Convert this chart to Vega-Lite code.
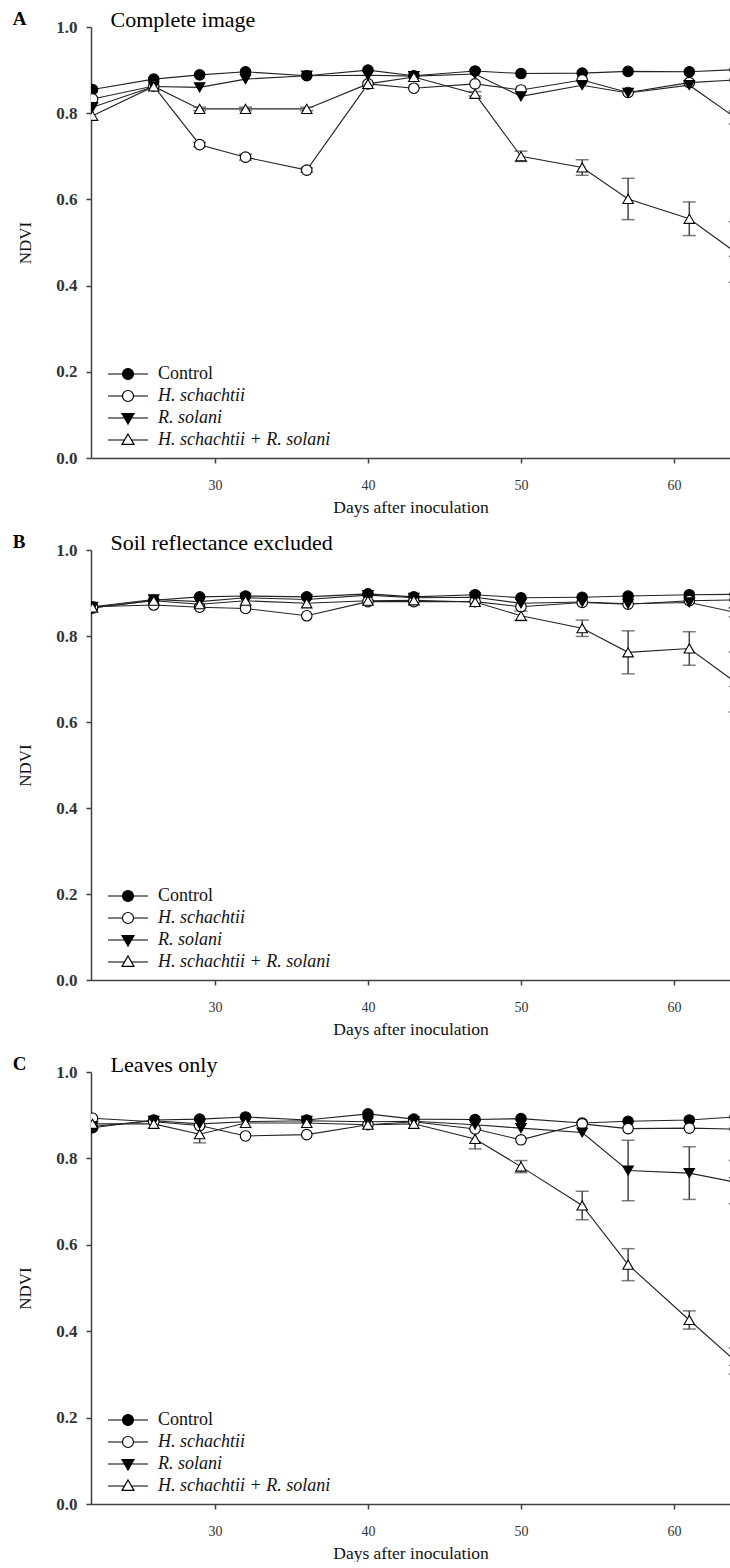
{
  "$schema": "https://vega.github.io/schema/vega-lite/v6.json",
  "background": "white",
  "padding": {"left": 12, "top": 8, "right": 0, "bottom": 0},
  "config": {
    "font": "Liberation Serif",
    "view": {"stroke": null},
    "concat": {"spacing": 92},
    "axis": {
      "grid": false,
      "domainColor": "#404040",
      "domainWidth": 1.5,
      "tickColor": "#404040",
      "tickWidth": 1.5,
      "tickSize": 5,
      "labelFont": "Liberation Serif",
      "titleFont": "Liberation Serif",
      "labelColor": "#333333",
      "titleColor": "#111111",
      "titleFontWeight": "normal"
    },
    "title": {"anchor": "start", "frame": "bounds", "dx": -4, "offset": -21, "font": "Liberation Serif", "fontSize": 19, "fontWeight": "bold", "color": "#000000"},
    "legend": {
      "orient": "bottom-left",
      "offset": 9,
      "padding": 0,
      "title": null,
      "labelFont": "Liberation Serif",
      "labelFontSize": 18,
      "labelColor": "#111111",
      "labelLimit": 400,
      "symbolSize": 1600,
      "symbolStrokeColor": "#000000",
      "symbolStrokeWidth": 1.2,
      "symbolOpacity": 1,
      "symbolOffset": 7,
      "labelOffset": 9,
      "clipHeight": 18,
      "rowPadding": 4
    }
  },
  "data": {"values": [
    {"panel":"A","series":"Control","day":22,"ndvi":0.855,"err":0},
    {"panel":"A","series":"Control","day":26,"ndvi":0.879,"err":0},
    {"panel":"A","series":"Control","day":29,"ndvi":0.889,"err":0},
    {"panel":"A","series":"Control","day":32,"ndvi":0.896,"err":0},
    {"panel":"A","series":"Control","day":36,"ndvi":0.887,"err":0},
    {"panel":"A","series":"Control","day":40,"ndvi":0.900,"err":0},
    {"panel":"A","series":"Control","day":43,"ndvi":0.887,"err":0},
    {"panel":"A","series":"Control","day":47,"ndvi":0.898,"err":0},
    {"panel":"A","series":"Control","day":50,"ndvi":0.892,"err":0},
    {"panel":"A","series":"Control","day":54,"ndvi":0.893,"err":0},
    {"panel":"A","series":"Control","day":57,"ndvi":0.897,"err":0},
    {"panel":"A","series":"Control","day":61,"ndvi":0.896,"err":0},
    {"panel":"A","series":"Control","day":64,"ndvi":0.901,"err":0},
    {"panel":"A","series":"H. schachtii","day":22,"ndvi":0.833,"err":0},
    {"panel":"A","series":"H. schachtii","day":26,"ndvi":0.863,"err":0},
    {"panel":"A","series":"H. schachtii","day":29,"ndvi":0.727,"err":0.005},
    {"panel":"A","series":"H. schachtii","day":32,"ndvi":0.698,"err":0.007},
    {"panel":"A","series":"H. schachtii","day":36,"ndvi":0.668,"err":0.005},
    {"panel":"A","series":"H. schachtii","day":40,"ndvi":0.868,"err":0},
    {"panel":"A","series":"H. schachtii","day":43,"ndvi":0.858,"err":0},
    {"panel":"A","series":"H. schachtii","day":47,"ndvi":0.868,"err":0},
    {"panel":"A","series":"H. schachtii","day":50,"ndvi":0.854,"err":0},
    {"panel":"A","series":"H. schachtii","day":54,"ndvi":0.877,"err":0},
    {"panel":"A","series":"H. schachtii","day":57,"ndvi":0.848,"err":0},
    {"panel":"A","series":"H. schachtii","day":61,"ndvi":0.871,"err":0},
    {"panel":"A","series":"H. schachtii","day":64,"ndvi":0.877,"err":0},
    {"panel":"A","series":"R. solani","day":22,"ndvi":0.814,"err":0},
    {"panel":"A","series":"R. solani","day":26,"ndvi":0.862,"err":0},
    {"panel":"A","series":"R. solani","day":29,"ndvi":0.860,"err":0},
    {"panel":"A","series":"R. solani","day":32,"ndvi":0.879,"err":0},
    {"panel":"A","series":"R. solani","day":36,"ndvi":0.887,"err":0},
    {"panel":"A","series":"R. solani","day":40,"ndvi":0.888,"err":0},
    {"panel":"A","series":"R. solani","day":43,"ndvi":0.886,"err":0},
    {"panel":"A","series":"R. solani","day":47,"ndvi":0.891,"err":0},
    {"panel":"A","series":"R. solani","day":50,"ndvi":0.839,"err":0},
    {"panel":"A","series":"R. solani","day":54,"ndvi":0.865,"err":0},
    {"panel":"A","series":"R. solani","day":57,"ndvi":0.847,"err":0},
    {"panel":"A","series":"R. solani","day":61,"ndvi":0.865,"err":0},
    {"panel":"A","series":"R. solani","day":64,"ndvi":0.790,"err":0.015},
    {"panel":"A","series":"H. schachtii + R. solani","day":22,"ndvi":0.794,"err":0},
    {"panel":"A","series":"H. schachtii + R. solani","day":26,"ndvi":0.862,"err":0},
    {"panel":"A","series":"H. schachtii + R. solani","day":29,"ndvi":0.810,"err":0.004},
    {"panel":"A","series":"H. schachtii + R. solani","day":32,"ndvi":0.810,"err":0.004},
    {"panel":"A","series":"H. schachtii + R. solani","day":36,"ndvi":0.810,"err":0.004},
    {"panel":"A","series":"H. schachtii + R. solani","day":40,"ndvi":0.868,"err":0},
    {"panel":"A","series":"H. schachtii + R. solani","day":43,"ndvi":0.884,"err":0},
    {"panel":"A","series":"H. schachtii + R. solani","day":47,"ndvi":0.845,"err":0.005},
    {"panel":"A","series":"H. schachtii + R. solani","day":50,"ndvi":0.700,"err":0.012},
    {"panel":"A","series":"H. schachtii + R. solani","day":54,"ndvi":0.674,"err":0.018},
    {"panel":"A","series":"H. schachtii + R. solani","day":57,"ndvi":0.601,"err":0.048},
    {"panel":"A","series":"H. schachtii + R. solani","day":61,"ndvi":0.555,"err":0.039},
    {"panel":"A","series":"H. schachtii + R. solani","day":64,"ndvi":0.478,"err":0.07},
    {"panel":"B","series":"Control","day":22,"ndvi":0.865,"err":0},
    {"panel":"B","series":"Control","day":26,"ndvi":0.883,"err":0},
    {"panel":"B","series":"Control","day":29,"ndvi":0.891,"err":0},
    {"panel":"B","series":"Control","day":32,"ndvi":0.893,"err":0},
    {"panel":"B","series":"Control","day":36,"ndvi":0.891,"err":0},
    {"panel":"B","series":"Control","day":40,"ndvi":0.898,"err":0},
    {"panel":"B","series":"Control","day":43,"ndvi":0.891,"err":0},
    {"panel":"B","series":"Control","day":47,"ndvi":0.896,"err":0},
    {"panel":"B","series":"Control","day":50,"ndvi":0.889,"err":0},
    {"panel":"B","series":"Control","day":54,"ndvi":0.890,"err":0},
    {"panel":"B","series":"Control","day":57,"ndvi":0.893,"err":0},
    {"panel":"B","series":"Control","day":61,"ndvi":0.896,"err":0},
    {"panel":"B","series":"Control","day":64,"ndvi":0.897,"err":0},
    {"panel":"B","series":"H. schachtii","day":22,"ndvi":0.868,"err":0},
    {"panel":"B","series":"H. schachtii","day":26,"ndvi":0.872,"err":0},
    {"panel":"B","series":"H. schachtii","day":29,"ndvi":0.867,"err":0},
    {"panel":"B","series":"H. schachtii","day":32,"ndvi":0.864,"err":0},
    {"panel":"B","series":"H. schachtii","day":36,"ndvi":0.847,"err":0},
    {"panel":"B","series":"H. schachtii","day":40,"ndvi":0.880,"err":0},
    {"panel":"B","series":"H. schachtii","day":43,"ndvi":0.880,"err":0},
    {"panel":"B","series":"H. schachtii","day":47,"ndvi":0.880,"err":0},
    {"panel":"B","series":"H. schachtii","day":50,"ndvi":0.868,"err":0},
    {"panel":"B","series":"H. schachtii","day":54,"ndvi":0.878,"err":0},
    {"panel":"B","series":"H. schachtii","day":57,"ndvi":0.874,"err":0},
    {"panel":"B","series":"H. schachtii","day":61,"ndvi":0.882,"err":0},
    {"panel":"B","series":"H. schachtii","day":64,"ndvi":0.884,"err":0},
    {"panel":"B","series":"R. solani","day":22,"ndvi":0.868,"err":0},
    {"panel":"B","series":"R. solani","day":26,"ndvi":0.885,"err":0},
    {"panel":"B","series":"R. solani","day":29,"ndvi":0.880,"err":0},
    {"panel":"B","series":"R. solani","day":32,"ndvi":0.889,"err":0},
    {"panel":"B","series":"R. solani","day":36,"ndvi":0.885,"err":0},
    {"panel":"B","series":"R. solani","day":40,"ndvi":0.895,"err":0},
    {"panel":"B","series":"R. solani","day":43,"ndvi":0.889,"err":0},
    {"panel":"B","series":"R. solani","day":47,"ndvi":0.890,"err":0},
    {"panel":"B","series":"R. solani","day":50,"ndvi":0.876,"err":0},
    {"panel":"B","series":"R. solani","day":54,"ndvi":0.879,"err":0},
    {"panel":"B","series":"R. solani","day":57,"ndvi":0.875,"err":0},
    {"panel":"B","series":"R. solani","day":61,"ndvi":0.878,"err":0},
    {"panel":"B","series":"R. solani","day":64,"ndvi":0.855,"err":0.01},
    {"panel":"B","series":"H. schachtii + R. solani","day":22,"ndvi":0.866,"err":0},
    {"panel":"B","series":"H. schachtii + R. solani","day":26,"ndvi":0.882,"err":0},
    {"panel":"B","series":"H. schachtii + R. solani","day":29,"ndvi":0.874,"err":0},
    {"panel":"B","series":"H. schachtii + R. solani","day":32,"ndvi":0.882,"err":0},
    {"panel":"B","series":"H. schachtii + R. solani","day":36,"ndvi":0.876,"err":0},
    {"panel":"B","series":"H. schachtii + R. solani","day":40,"ndvi":0.882,"err":0},
    {"panel":"B","series":"H. schachtii + R. solani","day":43,"ndvi":0.883,"err":0},
    {"panel":"B","series":"H. schachtii + R. solani","day":47,"ndvi":0.879,"err":0},
    {"panel":"B","series":"H. schachtii + R. solani","day":50,"ndvi":0.847,"err":0.011},
    {"panel":"B","series":"H. schachtii + R. solani","day":54,"ndvi":0.818,"err":0.019},
    {"panel":"B","series":"H. schachtii + R. solani","day":57,"ndvi":0.762,"err":0.05},
    {"panel":"B","series":"H. schachtii + R. solani","day":61,"ndvi":0.771,"err":0.039},
    {"panel":"B","series":"H. schachtii + R. solani","day":64,"ndvi":0.693,"err":0.07},
    {"panel":"C","series":"Control","day":22,"ndvi":0.871,"err":0},
    {"panel":"C","series":"Control","day":26,"ndvi":0.889,"err":0},
    {"panel":"C","series":"Control","day":29,"ndvi":0.891,"err":0},
    {"panel":"C","series":"Control","day":32,"ndvi":0.896,"err":0},
    {"panel":"C","series":"Control","day":36,"ndvi":0.889,"err":0},
    {"panel":"C","series":"Control","day":40,"ndvi":0.903,"err":0},
    {"panel":"C","series":"Control","day":43,"ndvi":0.891,"err":0},
    {"panel":"C","series":"Control","day":47,"ndvi":0.890,"err":0},
    {"panel":"C","series":"Control","day":50,"ndvi":0.892,"err":0},
    {"panel":"C","series":"Control","day":54,"ndvi":0.882,"err":0},
    {"panel":"C","series":"Control","day":57,"ndvi":0.886,"err":0},
    {"panel":"C","series":"Control","day":61,"ndvi":0.889,"err":0},
    {"panel":"C","series":"Control","day":64,"ndvi":0.896,"err":0},
    {"panel":"C","series":"H. schachtii","day":22,"ndvi":0.893,"err":0},
    {"panel":"C","series":"H. schachtii","day":26,"ndvi":0.885,"err":0},
    {"panel":"C","series":"H. schachtii","day":29,"ndvi":0.876,"err":0},
    {"panel":"C","series":"H. schachtii","day":32,"ndvi":0.852,"err":0},
    {"panel":"C","series":"H. schachtii","day":36,"ndvi":0.855,"err":0},
    {"panel":"C","series":"H. schachtii","day":40,"ndvi":0.878,"err":0},
    {"panel":"C","series":"H. schachtii","day":43,"ndvi":0.885,"err":0},
    {"panel":"C","series":"H. schachtii","day":47,"ndvi":0.868,"err":0},
    {"panel":"C","series":"H. schachtii","day":50,"ndvi":0.843,"err":0},
    {"panel":"C","series":"H. schachtii","day":54,"ndvi":0.880,"err":0},
    {"panel":"C","series":"H. schachtii","day":57,"ndvi":0.869,"err":0},
    {"panel":"C","series":"H. schachtii","day":61,"ndvi":0.870,"err":0},
    {"panel":"C","series":"H. schachtii","day":64,"ndvi":0.868,"err":0},
    {"panel":"C","series":"R. solani","day":22,"ndvi":0.874,"err":0},
    {"panel":"C","series":"R. solani","day":26,"ndvi":0.887,"err":0},
    {"panel":"C","series":"R. solani","day":29,"ndvi":0.880,"err":0},
    {"panel":"C","series":"R. solani","day":32,"ndvi":0.885,"err":0},
    {"panel":"C","series":"R. solani","day":36,"ndvi":0.887,"err":0},
    {"panel":"C","series":"R. solani","day":40,"ndvi":0.885,"err":0},
    {"panel":"C","series":"R. solani","day":43,"ndvi":0.886,"err":0},
    {"panel":"C","series":"R. solani","day":47,"ndvi":0.878,"err":0},
    {"panel":"C","series":"R. solani","day":50,"ndvi":0.870,"err":0},
    {"panel":"C","series":"R. solani","day":54,"ndvi":0.860,"err":0},
    {"panel":"C","series":"R. solani","day":57,"ndvi":0.772,"err":0.07},
    {"panel":"C","series":"R. solani","day":61,"ndvi":0.766,"err":0.061},
    {"panel":"C","series":"R. solani","day":64,"ndvi":0.745,"err":0.05},
    {"panel":"C","series":"H. schachtii + R. solani","day":22,"ndvi":0.880,"err":0},
    {"panel":"C","series":"H. schachtii + R. solani","day":26,"ndvi":0.880,"err":0},
    {"panel":"C","series":"H. schachtii + R. solani","day":29,"ndvi":0.856,"err":0.02},
    {"panel":"C","series":"H. schachtii + R. solani","day":32,"ndvi":0.882,"err":0},
    {"panel":"C","series":"H. schachtii + R. solani","day":36,"ndvi":0.882,"err":0},
    {"panel":"C","series":"H. schachtii + R. solani","day":40,"ndvi":0.878,"err":0},
    {"panel":"C","series":"H. schachtii + R. solani","day":43,"ndvi":0.880,"err":0},
    {"panel":"C","series":"H. schachtii + R. solani","day":47,"ndvi":0.845,"err":0.023},
    {"panel":"C","series":"H. schachtii + R. solani","day":50,"ndvi":0.781,"err":0.014},
    {"panel":"C","series":"H. schachtii + R. solani","day":54,"ndvi":0.691,"err":0.033},
    {"panel":"C","series":"H. schachtii + R. solani","day":57,"ndvi":0.554,"err":0.037},
    {"panel":"C","series":"H. schachtii + R. solani","day":61,"ndvi":0.426,"err":0.021},
    {"panel":"C","series":"H. schachtii + R. solani","day":64,"ndvi":0.331,"err":0.03}
  ]},
  "bounds": "flush",
  "resolve": {"scale": {"x": "independent", "y": "independent", "shape": "independent", "fill": "independent"}, "legend": {"shape": "independent", "fill": "independent"}},
  "vconcat": [
    {
      "width": 639, "height": 431,
      "title": "A",
      "transform": [{"filter": "datum.panel == 'A'"}],
      "resolve": {"axis": {"x": "independent"}},
      "layer": [
        {"mark": {"type": "line", "clip": true, "color": "#222222", "strokeWidth": 1.1},
         "encoding": {
           "x": {"field": "day", "type": "quantitative", "title": "Days after inoculation", "scale": {"domain": [21.9, 63.66], "nice": false, "zero": false}, "axis": {"values": [30, 40, 50, 60], "labelFontSize": 14, "titleFontSize": 17.5, "labelPadding": 15, "titlePadding": 6}},
           "y": {"field": "ndvi", "type": "quantitative", "title": "NDVI", "scale": {"domain": [0, 1], "nice": false}, "axis": {"values": [0, 0.2, 0.4, 0.6, 0.8, 1.0], "format": ".1f", "labelFontSize": 17, "labelFontWeight": "bold", "labelPadding": 9, "titleFontSize": 17, "titlePadding": 21}},
           "detail": {"field": "series"}}},
        {"transform": [{"filter": "datum.err > 0"}],
         "mark": {"type": "errorbar", "clip": true, "color": "#444444", "thickness": 1.5, "ticks": {"size": 13, "thickness": 1.5, "color": "#444444"}},
         "encoding": {
           "x": {"field": "day", "type": "quantitative", "axis": null},
           "y": {"field": "ndvi", "type": "quantitative", "title": "NDVI"},
           "yError": {"field": "err"}}},
        {"mark": {"type": "point", "clip": true, "filled": true, "size": 110, "stroke": "#000000", "strokeWidth": 1.1, "opacity": 1},
         "encoding": {
           "x": {"field": "day", "type": "quantitative", "title": "Complete image", "axis": {"orient": "top", "labels": false, "ticks": false, "domain": false, "titleFontSize": 22, "titleColor": "#000000", "titleAlign": "left", "titleBaseline": "alphabetic", "titleX": 19, "titleY": -1}},
           "y": {"field": "ndvi", "type": "quantitative", "title": "NDVI"},
           "fill": {"field": "series", "type": "nominal", "scale": {"domain": ["Control", "H. schachtii", "R. solani", "H. schachtii + R. solani"], "range": ["#000000", "#ffffff", "#000000", "#ffffff"]},
             "legend": {
               "symbolType": {"expr": "datum.value === 'Control' || datum.value === 'H. schachtii' ? 'M-1,0L-0.275,0M0.275,0L1,0M0.275,0A0.275,0.275,0,1,1,-0.275,0A0.275,0.275,0,1,1,0.275,0Z' : datum.value === 'R. solani' ? 'M-1,0L-0.2,0M0.2,0L1,0M-0.3,-0.22L0.3,-0.22L0,0.3Z' : 'M-1,0L-0.18,0M0.18,0L1,0M0,-0.3L0.3,0.22L-0.3,0.22Z'"},
               "labelFontStyle": {"expr": "datum.value === 'Control' ? 'normal' : 'italic'"}}},
           "shape": {"field": "series", "type": "nominal", "scale": {"domain": ["H. schachtii + R. solani", "R. solani", "H. schachtii", "Control"], "range": ["triangle-up", "triangle-down", "circle", "circle"]}, "legend": null}}}
      ]
    },
    {
      "width": 639, "height": 430,
      "title": "B",
      "transform": [{"filter": "datum.panel == 'B'"}],
      "resolve": {"axis": {"x": "independent"}},
      "layer": [
        {"mark": {"type": "line", "clip": true, "color": "#222222", "strokeWidth": 1.1},
         "encoding": {
           "x": {"field": "day", "type": "quantitative", "title": "Days after inoculation", "scale": {"domain": [21.9, 63.66], "nice": false, "zero": false}, "axis": {"values": [30, 40, 50, 60], "labelFontSize": 14, "titleFontSize": 17.5, "labelPadding": 15, "titlePadding": 6}},
           "y": {"field": "ndvi", "type": "quantitative", "title": "NDVI", "scale": {"domain": [0, 1], "nice": false}, "axis": {"values": [0, 0.2, 0.4, 0.6, 0.8, 1.0], "format": ".1f", "labelFontSize": 17, "labelFontWeight": "bold", "labelPadding": 9, "titleFontSize": 17, "titlePadding": 21}},
           "detail": {"field": "series"}}},
        {"transform": [{"filter": "datum.err > 0"}],
         "mark": {"type": "errorbar", "clip": true, "color": "#444444", "thickness": 1.5, "ticks": {"size": 13, "thickness": 1.5, "color": "#444444"}},
         "encoding": {
           "x": {"field": "day", "type": "quantitative", "axis": null},
           "y": {"field": "ndvi", "type": "quantitative", "title": "NDVI"},
           "yError": {"field": "err"}}},
        {"mark": {"type": "point", "clip": true, "filled": true, "size": 110, "stroke": "#000000", "strokeWidth": 1.1, "opacity": 1},
         "encoding": {
           "x": {"field": "day", "type": "quantitative", "title": "Soil reflectance excluded", "axis": {"orient": "top", "labels": false, "ticks": false, "domain": false, "titleFontSize": 22, "titleColor": "#000000", "titleAlign": "left", "titleBaseline": "alphabetic", "titleX": 19, "titleY": -1}},
           "y": {"field": "ndvi", "type": "quantitative", "title": "NDVI"},
           "fill": {"field": "series", "type": "nominal", "scale": {"domain": ["Control", "H. schachtii", "R. solani", "H. schachtii + R. solani"], "range": ["#000000", "#ffffff", "#000000", "#ffffff"]},
             "legend": {
               "symbolType": {"expr": "datum.value === 'Control' || datum.value === 'H. schachtii' ? 'M-1,0L-0.275,0M0.275,0L1,0M0.275,0A0.275,0.275,0,1,1,-0.275,0A0.275,0.275,0,1,1,0.275,0Z' : datum.value === 'R. solani' ? 'M-1,0L-0.2,0M0.2,0L1,0M-0.3,-0.22L0.3,-0.22L0,0.3Z' : 'M-1,0L-0.18,0M0.18,0L1,0M0,-0.3L0.3,0.22L-0.3,0.22Z'"},
               "labelFontStyle": {"expr": "datum.value === 'Control' ? 'normal' : 'italic'"}}},
           "shape": {"field": "series", "type": "nominal", "scale": {"domain": ["H. schachtii + R. solani", "R. solani", "H. schachtii", "Control"], "range": ["triangle-up", "triangle-down", "circle", "circle"]}, "legend": null}}}
      ]
    },
    {
      "width": 639, "height": 432,
      "title": "C",
      "transform": [{"filter": "datum.panel == 'C'"}],
      "resolve": {"axis": {"x": "independent"}},
      "layer": [
        {"mark": {"type": "line", "clip": true, "color": "#222222", "strokeWidth": 1.1},
         "encoding": {
           "x": {"field": "day", "type": "quantitative", "title": "Days after inoculation", "scale": {"domain": [21.9, 63.66], "nice": false, "zero": false}, "axis": {"values": [30, 40, 50, 60], "labelFontSize": 14, "titleFontSize": 17.5, "labelPadding": 15, "titlePadding": 6}},
           "y": {"field": "ndvi", "type": "quantitative", "title": "NDVI", "scale": {"domain": [0, 1], "nice": false}, "axis": {"values": [0, 0.2, 0.4, 0.6, 0.8, 1.0], "format": ".1f", "labelFontSize": 17, "labelFontWeight": "bold", "labelPadding": 9, "titleFontSize": 17, "titlePadding": 21}},
           "detail": {"field": "series"}}},
        {"transform": [{"filter": "datum.err > 0"}],
         "mark": {"type": "errorbar", "clip": true, "color": "#444444", "thickness": 1.5, "ticks": {"size": 13, "thickness": 1.5, "color": "#444444"}},
         "encoding": {
           "x": {"field": "day", "type": "quantitative", "axis": null},
           "y": {"field": "ndvi", "type": "quantitative", "title": "NDVI"},
           "yError": {"field": "err"}}},
        {"mark": {"type": "point", "clip": true, "filled": true, "size": 110, "stroke": "#000000", "strokeWidth": 1.1, "opacity": 1},
         "encoding": {
           "x": {"field": "day", "type": "quantitative", "title": "Leaves only", "axis": {"orient": "top", "labels": false, "ticks": false, "domain": false, "titleFontSize": 22, "titleColor": "#000000", "titleAlign": "left", "titleBaseline": "alphabetic", "titleX": 19, "titleY": -1}},
           "y": {"field": "ndvi", "type": "quantitative", "title": "NDVI"},
           "fill": {"field": "series", "type": "nominal", "scale": {"domain": ["Control", "H. schachtii", "R. solani", "H. schachtii + R. solani"], "range": ["#000000", "#ffffff", "#000000", "#ffffff"]},
             "legend": {
               "symbolType": {"expr": "datum.value === 'Control' || datum.value === 'H. schachtii' ? 'M-1,0L-0.275,0M0.275,0L1,0M0.275,0A0.275,0.275,0,1,1,-0.275,0A0.275,0.275,0,1,1,0.275,0Z' : datum.value === 'R. solani' ? 'M-1,0L-0.2,0M0.2,0L1,0M-0.3,-0.22L0.3,-0.22L0,0.3Z' : 'M-1,0L-0.18,0M0.18,0L1,0M0,-0.3L0.3,0.22L-0.3,0.22Z'"},
               "labelFontStyle": {"expr": "datum.value === 'Control' ? 'normal' : 'italic'"}}},
           "shape": {"field": "series", "type": "nominal", "scale": {"domain": ["H. schachtii + R. solani", "R. solani", "H. schachtii", "Control"], "range": ["triangle-up", "triangle-down", "circle", "circle"]}, "legend": null}}}
      ]
    }
  ]
}
